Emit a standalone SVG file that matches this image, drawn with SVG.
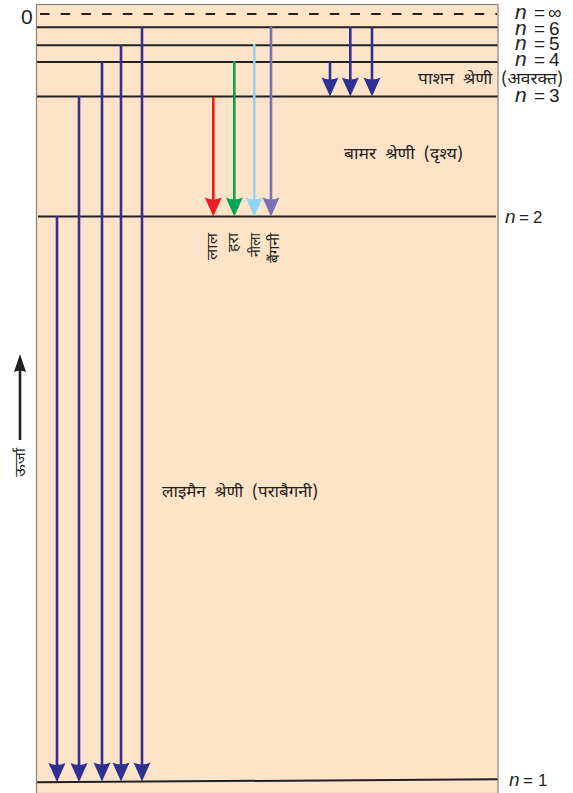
<svg xmlns="http://www.w3.org/2000/svg" xmlns:xlink="http://www.w3.org/1999/xlink" width="573" height="793" viewBox="0 0 573 793">
<style>
.lvl{stroke:#231f20;stroke-width:2;fill:none}
.lab{font-family:"Liberation Sans",Arial,sans-serif;fill:#231f20}
.it{font-style:italic}
.dev{font-family:"Noto Sans Devanagari","Noto Serif Devanagari","Lohit Devanagari","Noto Sans",sans-serif;fill:#231f20;font-size:14px}
.ser{font-size:15.5px;word-spacing:4px}
.sh{stroke-width:2.6;fill:none}
</style>
<defs>
<path id="hd" d="M0,0 L-8.5,-19 Q0,-15 8.5,-19 Z"/>
<path id="hds" d="M0,0 L-6,-18 Q0,-15 6,-18 Z"/>
</defs>
<rect id="box" x="36.5" y="4.5" width="461.5" height="789" fill="#fde3c8" stroke="#8a827e" stroke-width="1.2"/>

<g id="level-inf">
<line class="lvl" x1="40" y1="14" x2="497" y2="14" stroke-width="2.8" stroke-dasharray="9.5 11.2"/>
<text class="lab" x="21" y="24" font-size="21">0</text>
<text class="lab" y="19" font-size="19"><tspan class="it" x="515" font-size="21">n</tspan><tspan x="534">=</tspan><tspan x="548">∞</tspan></text>
</g>
<g id="level-6">
<line class="lvl" x1="37" y1="27.3" x2="497.5" y2="27.3"/>
<text class="lab" y="34.5" font-size="19"><tspan class="it" x="515" font-size="21">n</tspan><tspan x="534">=</tspan><tspan x="549">6</tspan></text>
</g>
<g id="level-5">
<line class="lvl" x1="37" y1="45.3" x2="497.5" y2="45.3"/>
<text class="lab" y="49.5" font-size="19"><tspan class="it" x="515" font-size="21">n</tspan><tspan x="534">=</tspan><tspan x="549">5</tspan></text>
</g>
<g id="level-4">
<line class="lvl" x1="37" y1="62" x2="497.5" y2="62"/>
<text class="lab" y="66" font-size="19"><tspan class="it" x="515" font-size="21">n</tspan><tspan x="534">=</tspan><tspan x="549">4</tspan></text>
</g>
<g id="level-3">
<line class="lvl" x1="37" y1="96.5" x2="497.5" y2="96.5"/>
<text class="lab" y="101.5" font-size="19"><tspan class="it" x="515" font-size="21">n</tspan><tspan x="534">=</tspan><tspan x="549">3</tspan></text>
</g>
<g id="level-2">
<line class="lvl" x1="38" y1="216.5" x2="496" y2="216.5"/>
<text class="lab" y="223" font-size="17"><tspan class="it" x="505" font-size="19">n</tspan><tspan x="519">=</tspan><tspan x="533">2</tspan></text>
</g>
<g id="level-1">
<line class="lvl" x1="37" y1="782.3" x2="497.5" y2="779.3"/>
<text class="lab" y="785.5" font-size="17"><tspan class="it" x="509" font-size="19">n</tspan><tspan x="523">=</tspan><tspan x="538">1</tspan></text>
</g>

<g id="connectors">
<g id="lyman" stroke="#2e3192" fill="#2e3192">
<line class="sh" x1="57" y1="216" x2="57" y2="766"/>
<line class="sh" x1="79" y1="96" x2="79" y2="766"/>
<line class="sh" x1="102" y1="62" x2="102" y2="766"/>
<line class="sh" x1="121" y1="45" x2="121" y2="766"/>
<line class="sh" x1="142" y1="27" x2="142" y2="766"/>
<use xlink:href="#hd" x="57" y="782" stroke="none"/>
<use xlink:href="#hd" x="79" y="782" stroke="none"/>
<use xlink:href="#hd" x="102" y="781.5" stroke="none"/>
<use xlink:href="#hd" x="121" y="781.5" stroke="none"/>
<use xlink:href="#hd" x="142" y="781.5" stroke="none"/>
</g>
<g id="balmer">
<line class="sh" stroke="#ed1c24" x1="213.3" y1="97" x2="213.3" y2="202"/>
<use xlink:href="#hd" x="213.3" y="216.5" fill="#ed1c24"/>
<line class="sh" stroke="#00a651" x1="234.3" y1="61" x2="234.3" y2="202"/>
<use xlink:href="#hd" x="234.3" y="216.5" fill="#00a651"/>
<line class="sh" stroke="#8fd4f4" x1="254.3" y1="44" x2="254.3" y2="202"/>
<use xlink:href="#hd" x="254.3" y="216.5" fill="#8fd4f4"/>
<line class="sh" stroke="#7a70b8" x1="271" y1="27" x2="271" y2="202"/>
<use xlink:href="#hd" x="271" y="216.5" fill="#7a70b8"/>
</g>
<g id="paschen" stroke="#2e3192" fill="#2e3192">
<line class="sh" x1="330" y1="62" x2="330" y2="81"/>
<line class="sh" x1="350.3" y1="27" x2="350.3" y2="81"/>
<line class="sh" x1="372" y1="27" x2="372" y2="81"/>
<use xlink:href="#hd" x="330" y="96.5" stroke="none"/>
<use xlink:href="#hd" x="350.3" y="96.5" stroke="none"/>
<use xlink:href="#hd" x="372" y="96.5" stroke="none"/>
</g>
</g>

<g id="colour-labels">
<text class="dev" text-anchor="end" textLength="27" lengthAdjust="spacingAndGlyphs" transform="translate(217,233) rotate(-90)">लाल</text>
<text class="dev" text-anchor="end" textLength="19" lengthAdjust="spacingAndGlyphs" transform="translate(238,233) rotate(-90)">हरा</text>
<text class="dev" text-anchor="end" textLength="24" lengthAdjust="spacingAndGlyphs" transform="translate(260,233) rotate(-90)">नीला</text>
<text class="dev" text-anchor="end" textLength="30" lengthAdjust="spacingAndGlyphs" transform="translate(279,233) rotate(-90)">बैंगनी</text>
</g>

<g id="series-labels">
<text class="dev ser" x="418" y="84" textLength="145" lengthAdjust="spacingAndGlyphs">पाशन श्रेणी (अवरक्त)</text>
<text class="dev ser" x="344" y="159" textLength="119" lengthAdjust="spacingAndGlyphs">बामर श्रेणी (दृश्य)</text>
<text class="dev ser" x="162" y="497" textLength="156" lengthAdjust="spacingAndGlyphs">लाइमैन श्रेणी (पराबैगनी)</text>
</g>

<g id="energy-axis">
<line stroke="#231f20" stroke-width="2.6" x1="20" y1="440" x2="20" y2="368"/>
<use xlink:href="#hds" transform="translate(20,354) rotate(180)" fill="#231f20"/>
<text class="dev" text-anchor="end" font-size="14" textLength="29" lengthAdjust="spacingAndGlyphs" transform="translate(25,448) rotate(-90)">ऊर्जा</text>
</g>
</svg>
